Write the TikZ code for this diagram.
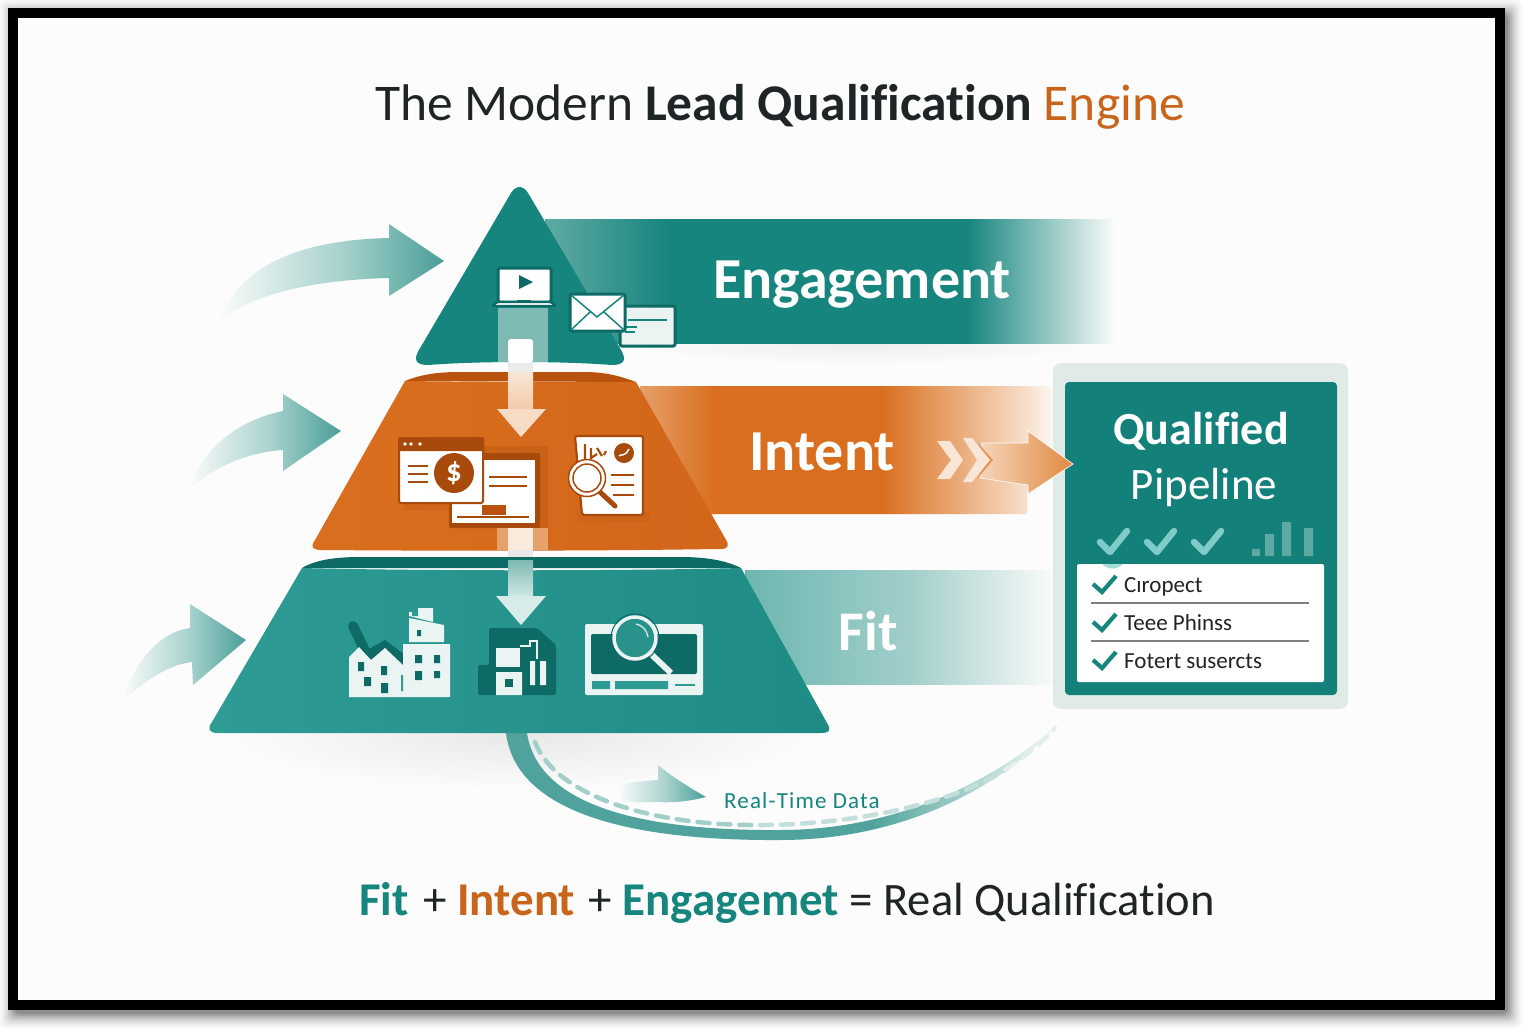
\documentclass[tikz,border=0pt]{standalone}
\usepackage{fontspec}
\setmainfont{Carlito}[Ligatures=NoCommon]
\usetikzlibrary{calc}
\definecolor{pagebg}{HTML}{FBFCFB}
\definecolor{teal1}{HTML}{15857E}
\definecolor{teal2}{HTML}{2E9C95}
\definecolor{teal3}{HTML}{1E8C85}
\definecolor{tealdk}{HTML}{0E6A64}
\definecolor{tealhead}{HTML}{4A9E97}
\definecolor{tealmid}{HTML}{A8D2CE}
\definecolor{tealpale}{HTML}{EAF4F2}
\definecolor{tealsoft}{HTML}{7FB9B3}
\definecolor{bandA}{HTML}{5FAAA3}
\definecolor{bandF}{HTML}{6DB6B0}
\definecolor{bandFm}{HTML}{A3CFCB}
\definecolor{or1}{HTML}{D96F1E}
\definecolor{or2}{HTML}{D2661A}
\definecolor{ordk}{HTML}{B9520F}
\definecolor{oricon}{HTML}{A84A0C}
\definecolor{orband}{HTML}{E5A06A}
\definecolor{orfade}{HTML}{F8E3D0}
\definecolor{orarrow}{HTML}{E08A42}
\definecolor{orarrowl}{HTML}{F5D5BA}
\definecolor{orpale}{HTML}{F6DCC4}
\definecolor{ink}{HTML}{1F2426}
\definecolor{titleor}{HTML}{C9651B}
\definecolor{cardout}{HTML}{E0EAE7}
\definecolor{cardin}{HTML}{14807A}
\definecolor{tickl}{HTML}{7FCBC7}
\definecolor{barl}{HTML}{5FA9A3}
\definecolor{curve}{HTML}{4FA39C}
\pgfdeclarehorizontalshading{engband}{100bp}{color(0bp)=(bandA);color(25bp)=(bandA);color(36bp)=(teal1);color(62bp)=(teal1);color(75bp)=(pagebg);color(100bp)=(pagebg)}
\pgfdeclarehorizontalshading{intband}{100bp}{color(0bp)=(orband);color(25bp)=(orband);color(34bp)=(or1);color(54bp)=(or1);color(72bp)=(orfade);color(75bp)=(pagebg);color(100bp)=(pagebg)}
\pgfdeclarehorizontalshading{fitband}{100bp}{color(0bp)=(bandF);color(25bp)=(bandF);color(52bp)=(bandFm);color(75bp)=(pagebg);color(100bp)=(pagebg)}
\pgfdeclarehorizontalshading{retband}{100bp}{color(0bp)=(curve);color(25bp)=(curve);color(58bp)=(curve);color(75bp)=(pagebg);color(100bp)=(pagebg)}
\pgfdeclarehorizontalshading{sweepshade}{100bp}{color(0bp)=(pagebg);color(25bp)=(pagebg);color(52bp)=(tealmid);color(75bp)=(tealhead);color(100bp)=(tealhead)}
\tikzset{
  px/.style={x=1pt,y=-1pt},
  bandlabel/.style={text=white,font=\fontsize{#1}{#1}\selectfont\bfseries,anchor=base,inner sep=0pt},
  listlabel/.style={text=ink,font=\fontsize{23}{26}\selectfont,anchor=base west,inner sep=0pt},
  listtick/.style={draw=teal1,line width=4.2pt,line join=miter},
  softtick/.style={draw=tickl,line width=6.5pt,line cap=round,line join=round},
  sweep/.style={draw=none,shading=sweepshade},
}
\begin{document}
\begin{tikzpicture}[px]
\useasboundingbox (0,0) rectangle (1525,1031);
% frame with blurred shadow
\fill[white] (0,0) rectangle (1525,1031);
\foreach \k/\d in {3/14,6/12,10/10,15/8,21/6,28/4,36/2,44/0}{
  \path[fill=black!\k,rounded corners=6pt] ({14-\d},{14-\d}) rectangle ({1508+\d},{1014+\d});
}
\fill[black] (8,8) rectangle (1505,1010);
\fill[pagebg] (18,18) rectangle (1495,1000);
% title
\node[anchor=base west,inner sep=0pt,text=ink] (title) at (375,120) {\fontsize{51.5}{54}\selectfont The Modern \textbf{Lead Qualification} \textcolor{titleor}{Engine}};
% shadows
\begin{scope}
\clip (150,733) rectangle (900,800);
\shade[inner color=black!9,outer color=pagebg] (520,733) ellipse [x radius=300,y radius=58];
\end{scope}
\begin{scope}
\clip (600,343) rectangle (1120,372);
\shade[inner color=black!7,outer color=pagebg] (860,343) ellipse [x radius=240,y radius=22];
\end{scope}
% bands
\shade[shading=engband] (545,219) rectangle (1115,343);
\shade[shading=intband] (640,386) -- (1056,386) -- (1056,464) -- (1027,490) -- (1027,514) -- (640,514) -- cycle;
\shade[shading=fitband] (745,570) rectangle (1056,684);
% left arrows
\shade[sweep] (444,261) -- (389,224) -- (389,238) .. controls (300,240) and (240,265) .. (218,322) .. controls (250,295) and (310,280) .. (389,278) -- (389,296) -- cycle;
\shade[sweep] (341,431) -- (283,394) -- (283,411) .. controls (240,420) and (205,445) .. (188,490) .. controls (210,470) and (245,452) .. (283,450) -- (283,471) -- cycle;
\shade[sweep] (246,640) -- (190,604) -- (190,628) .. controls (160,632) and (135,660) .. (122,702) .. controls (140,685) and (165,665) .. (192,662) -- (193,685) -- cycle;
% return curve
\shade[shading=retband] (506,733) .. controls (515,805) and (610,841) .. (780,840) .. controls (900,840) and (1000,790) .. (1060,722) .. controls (1000,778) and (900,830) .. (780,830) .. controls (640,831) and (538,805) .. (527,733) -- cycle;
\draw[draw=bandFm,line width=4.5pt,dash pattern=on 12pt off 9pt,line cap=round] (535,742) .. controls (555,795) and (650,826) .. (760,825);
\draw[draw=bandFm!65!pagebg,line width=4.5pt,dash pattern=on 12pt off 9pt,line cap=round] (760,825) .. controls (860,825) and (960,800) .. (1005,770);
\draw[draw=bandFm!30!pagebg,line width=4pt,dash pattern=on 12pt off 9pt,line cap=round] (1005,770) .. controls (1025,757) and (1040,745) .. (1055,728);
\shade[sweep] (706,797) .. controls (685,785) and (670,775) .. (658,765) -- (658,780) .. controls (645,781) and (630,782) .. (618,786) -- (622,801) .. controls (635,803) and (645,802) .. (657,802) .. controls (675,803) and (690,801) .. (706,797) -- cycle;
\node[anchor=base west,inner sep=0pt,text=teal1] (rtd) at (724,808) {\fontsize{23}{26}\selectfont\addfontfeatures{LetterSpace=5}Real-Time Data};
% top triangle
\path[fill=teal1] (511,193) .. controls (516,185) and (523,185) .. (528,193) -- (621,350) .. controls (627,360) and (624,365) .. (612,365) .. controls (560,361) and (480,361) .. (428,365) .. controls (416,365) and (413,360) .. (419,350) -- cycle;
% mid trapezoid
\path[fill=ordk] (405,381) .. controls (420,375) and (435,372) .. (460,372) -- (585,372) .. controls (605,372) and (620,376) .. (636,382) -- cycle;
\shade[left color=or1,right color=or2] (405,381) .. controls (480,382) and (560,382) .. (636,382) -- (725,538) .. controls (731,547) and (727,550) .. (715,549) .. controls (600,551) and (440,551) .. (322,550) .. controls (312,550) and (310,547) .. (315,540) -- cycle;
% bottom trapezoid
\path[fill=tealdk] (302,568) .. controls (315,560) and (335,557) .. (360,557) -- (680,557) .. controls (705,557) and (725,560) .. (741,568) -- cycle;
\shade[left color=teal2,right color=teal3] (302,568) .. controls (420,571) and (620,571) .. (741,568) -- (827,723) .. controls (832,731) and (829,733) .. (820,733) -- (218,733) .. controls (209,733) and (207,729) .. (212,722) -- cycle;
% vertical flow: top
\fill[tealsoft] (498,308) rectangle (548,362);
\path[fill=white,rounded corners=3pt] (508,363) -- (508,339) -- (533,339) -- (533,363) -- cycle;
\fill[black!8] (508,363) rectangle (533,372);
\shade[top color=orpale!70!white,bottom color=orpale!85!or1] (508,372) rectangle (533,409);
\path[fill=orpale] (497,409) -- (546,409) -- (521,437) -- cycle;
% laptop
\path[fill=white,draw=tealdk,line width=3pt,rounded corners=1.5pt] (498,268) rectangle (551,302);
\path[fill=tealdk] (519,275) -- (533,282) -- (519,289) -- cycle;
\path[fill=white,draw=tealdk,line width=2.2pt,rounded corners=1.5pt] (497,302) -- (551,302) -- (556,306) -- (492,306) -- cycle;
\draw[draw=tealdk,line width=1.5pt] (517,301) -- (531,301);
% card + envelope
\path[fill=tealpale,draw=tealdk,line width=3pt,rounded corners=2pt] (620,306) rectangle (675,346);
\draw[draw=teal1,line width=2pt] (628,320) -- (667,320);
\draw[draw=teal1,line width=1.5pt] (625,327) -- (637,327) (625,332) -- (635,332);
\path[fill=white,draw=tealdk,line width=3pt,rounded corners=2pt] (570,294) rectangle (625,331);
\draw[draw=teal1,line width=1.5pt] (571,295) -- (597,317) -- (624,295) (571,330) -- (590,312) (624,330) -- (604,312);
% money windows
\fill[oricon,opacity=.25] (466,446) rectangle (548,528);
\path[fill=oricon,rounded corners=2pt] (449,453) rectangle (540,528);
\fill[white] (452,460) rectangle (535,523);
\draw[draw=oricon,line width=2pt] (489,477) -- (527,477) (489,486) -- (527,486);
\draw[draw=oricon,line width=2.5pt] (457,517) -- (529,517);
\fill[ordk] (482,505) rectangle (506,515);
\fill[oricon,opacity=.15] (404,503) rectangle (449,510);
\path[fill=white,draw=oricon,line width=2pt,rounded corners=2pt] (399,438) rectangle (483,503);
\path[fill=oricon,rounded corners=2pt] (398,437) rectangle (484,451);
\fill[white] (405,444) circle (1.8) (411,444) circle (1.8) (420,444) circle (1.8);
\draw[draw=oricon,line width=2.2pt] (408,466) -- (428,466) (408,474) -- (428,474) (408,482) -- (428,482);
\node[circle,fill=oricon,minimum size=40pt,inner sep=0pt,text=white] (dollar) at (454,473) {\fontsize{31}{31}\selectfont\bfseries\$};
% document + magnifier
\fill[oricon,opacity=.12] (578,512) rectangle (650,522);
\path[fill=white,draw=oricon,line width=2.2pt,rounded corners=2pt] (575,436) -- (643,436) -- (643,515) -- (582,515) -- cycle;
\draw[draw=oricon,line width=2.2pt] (585,444) -- (585,462) (591,448) -- (591,458) -- (597,454);
\draw[draw=oricon,line width=2.2pt] (597,448) -- (602,456) (604,455) -- (606,451);
\path[fill=oricon] (624,453) ellipse [x radius=10,y radius=10];
\draw[draw=white,line width=1.5pt] (619,456) .. controls (622,453) and (624,458) .. (629,449);
\draw[draw=oricon,line width=2pt] (611,475) -- (634,475) (611,485) -- (634,485) (613,495) -- (634,495);
\draw[draw=oricon,line width=5pt,line cap=round] (600,492) -- (615,506);
\path[fill=white,draw=oricon,line width=1.5pt] (587,478) circle (18.5);
\path[fill=white,draw=oricon,line width=1.5pt] (587,478) circle (14);
% vertical flow: lower
\fill[or1!65!white] (497,528) rectangle (508,550);
\fill[or1!65!white] (533,528) rectangle (548,550);
\fill[orpale!60!white] (508,528) rectangle (533,550);
\fill[black!9] (508,550) rectangle (533,557);
\shade[top color=tealsoft,bottom color=tealpale!85!teal2] (508,560) rectangle (533,596);
\path[fill=tealpale!90!teal2] (496,596) -- (546,596) -- (521,625) -- cycle;
% factory icon
\draw[draw=tealdk,line width=10pt,line cap=round] (353,626) -- (367,655);
\path[fill=tealdk] (367,650) -- (385,640) -- (405,655) -- (405,668) -- (371,668) -- cycle;
\path[fill=tealpale] (349,697) -- (349,657) -- (359,647) -- (371,660) -- (385,648) -- (403,665) -- (403,644) -- (450,644) -- (450,697) -- cycle;
\path[fill=tealpale] (409,642) -- (409,618) -- (444,625) -- (444,642) -- cycle;
\path[fill=tealpale] (409,616) -- (409,612) -- (418,612) -- (418,608) -- (433,608) -- (433,622) -- cycle;
\fill[tealdk] (358,662) rectangle (364,671) (381,666) rectangle (387,675) (364,677) rectangle (371,686) (381,683) rectangle (388,693)
 (415,655) rectangle (422,663) (434,655) rectangle (440,663) (415,671) rectangle (422,680) (434,671) rectangle (440,678)
 (417,630) rectangle (421,636);
\fill[teal2] (412,611) rectangle (418,616) (401,675) rectangle (403,691);
% middle building icon
\path[fill=tealdk,rounded corners=2pt] (489,628) -- (537,628) -- (556,645) -- (556,695) -- (478,695) -- (478,665) -- (489,665) -- cycle;
\fill[tealpale] (496,648) rectangle (520,667);
\draw[draw=tealpale,line width=2.5pt] (520,646) -- (530,646) -- (530,641) -- (537,641) -- (537,659);
\fill[tealpale] (530,661) rectangle (535,685) (540,661) rectangle (546,685) (496,672) rectangle (522,695);
\fill[tealdk] (505,679) rectangle (513,687);
% dashboard icon
\path[fill=tealpale,rounded corners=2pt] (585,624) rectangle (703,695);
\path[fill=tealdk,rounded corners=2pt] (591,634) rectangle (697,674);
\fill[teal2] (592,681) rectangle (610,689) (615,681) rectangle (668,689);
\draw[draw=teal2,line width=2pt] (675,685) -- (695,685);
\draw[draw=tealpale,line width=6pt] (651,654) -- (671,673);
\path[fill=teal2!80!tealdk,draw=tealpale,line width=3.5pt] (635,638) circle (21);
\draw[draw=tealdk,line width=1pt] (635,638) circle (24);
\draw[draw=white!75!teal2,line width=1.4pt] (636,624) .. controls (642,625) and (647,630) .. (648,637);
% band labels
\node[bandlabel=58] (eng) at (862,298) {Engagement};
\node[bandlabel=58] (int) at (822,470) {Intent};
\node[bandlabel=56] (fit) at (868,650) {Fit};
% qualified card
\path[fill=cardout,rounded corners=8pt] (1053,363) rectangle (1348,709);
\path[fill=cardin,rounded corners=4pt] (1065,382) rectangle (1337,695);
% Intent chevrons and arrow
\shade[left color=orarrowl,right color=orarrow,draw=white,line width=.6pt] (982,443) -- (1028,443) -- (1028,431) -- (1073,464) -- (1028,494) -- (1028,485) -- (980,478) -- cycle;
\path[fill=or1!75!white] (977,442) -- (993,460) -- (977,479) -- (986,460) -- cycle;
\path[fill=orpale!70!white] (937,441) -- (950,441) -- (963,460) -- (950,479) -- (937,479) -- (951,460) -- cycle;
\path[fill=orpale!70!white] (963,438) -- (972,438) -- (990,460) -- (972,482) -- (963,482) -- (977,460) -- cycle;
\node[anchor=base,inner sep=0pt,text=white] (q1) at (1201,444) {\fontsize{46}{50}\selectfont\bfseries Qualified};
\node[anchor=base,inner sep=0pt,text=white] (q2) at (1204,499) {\fontsize{45}{50}\selectfont Pipeline};
\draw[softtick] (1100,542) -- (1110,552) -- (1127,531);
\draw[softtick] (1147,542) -- (1157,552) -- (1174,531);
\draw[softtick] (1194,542) -- (1204,552) -- (1221,531);
\fill[barl] (1252,549) rectangle (1260,556) (1265,534) rectangle (1274,556) (1282,522) rectangle (1291,556) (1304,528) rectangle (1313,556);
\path[fill=white,rounded corners=2pt] (1077,564) rectangle (1324,682);
\path[fill=tickl!70!white] (1102,564) .. controls (1108,570) and (1117,570) .. (1123,564) -- cycle;
\draw[listtick] (1093,584) -- (1102,592) -- (1116,576);
\draw[listtick] (1093,622) -- (1102,630) -- (1116,614);
\draw[listtick] (1093,660) -- (1102,668) -- (1116,652);
\draw[draw=black!50,line width=1.1pt] (1091,603) -- (1309,603) (1091,641) -- (1309,641);
\node[listlabel] (l1) at (1124,592) {Cıropect};
\node[listlabel] (l2) at (1124,630) {Teee Phinss};
\node[listlabel] (l3) at (1124,668) {Fotert susercts};
% bottom formula
\node[anchor=base west,inner sep=0pt,text=ink] (formula) at (359,915) {\fontsize{47}{51}\selectfont\textcolor{teal1}{\textbf{Fit}}\hspace{4pt} + \textcolor{titleor}{\textbf{Intent}}\hspace{3pt} + \textcolor{teal1}{\textbf{Engagemet}} = {\fontsize{46.5}{51}\selectfont Real Qualification}};
\end{tikzpicture}
\end{document}
